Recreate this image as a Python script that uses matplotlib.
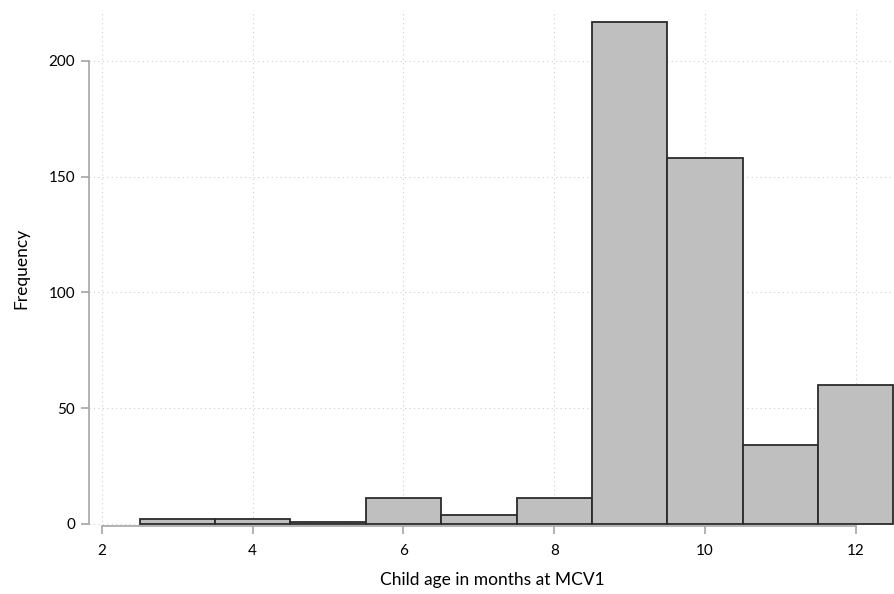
import numpy as np
import matplotlib
matplotlib.use('Agg')
import matplotlib.pyplot as plt

# months (bin centres) and counts
age_months = [3, 4, 5, 6, 7, 8, 9, 10, 11, 12]
frequency = [2, 2, 1, 11, 4, 11, 217, 158, 34, 60]
x_ticks = [2, 4, 6, 8, 10, 12]
y_ticks = [0, 50, 100, 150, 200]

plt.rcParams['font.family'] = ['Lato', 'DejaVu Sans']

fig = plt.figure(figsize=(8.95, 5.94), dpi=100)
ax = fig.add_axes([89/895, 68/594, 806/895, 516/594])

ax.bar(age_months, frequency, width=1.0, color='#bfbfbf',
       edgecolor='#2b2b2b', linewidth=1.3, zorder=3)

ax.set_xlim(1.83, 12.52)
ax.set_ylim(-0.9, 222)
ax.set_xticks(x_ticks)
ax.set_yticks(y_ticks)

# stata-ish look: dotted grid, axis lines only over tick range
ax.grid(True, linestyle=(0, (1, 3)), color='#cfcfcf', linewidth=0.8, zorder=0)
for s in ['top', 'right']:
    ax.spines[s].set_visible(False)
ax.spines['left'].set_bounds(0, 200)
ax.spines['bottom'].set_bounds(2, 12)
for s in ['left', 'bottom']:
    ax.spines[s].set_color('#a6a6a6')
    ax.spines[s].set_linewidth(1.2)
ax.tick_params(axis='both', colors='#a6a6a6', length=6, width=1.2,
               labelcolor='black', labelsize=11)
ax.tick_params(axis='x', pad=7)
ax.tick_params(axis='y', pad=4)

ax.set_xlabel('Child age in months at MCV1', fontsize=12.5, labelpad=10)
ax.set_ylabel('Frequency', fontsize=12.5, labelpad=14)

fig.savefig('out.png', dpi=100)
